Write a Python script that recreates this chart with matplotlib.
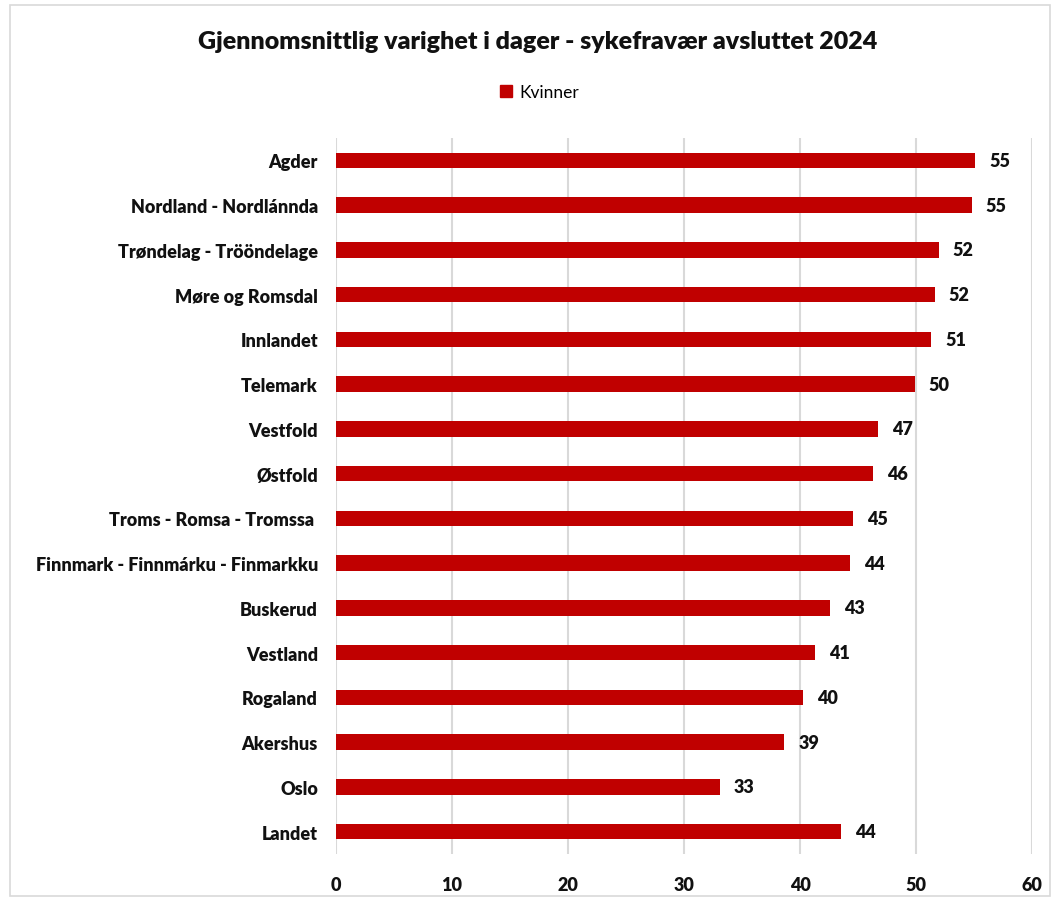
import matplotlib.pyplot as plt
from matplotlib.patches import Rectangle, Patch

# Data
regions = ['Agder', 'Nordland - Nordlánnda', 'Trøndelag - Trööndelage', 'Møre og Romsdal',
           'Innlandet', 'Telemark', 'Vestfold', 'Østfold', 'Troms - Romsa - Tromssa ',
           'Finnmark - Finnmárku - Finmarkku', 'Buskerud', 'Vestland', 'Rogaland',
           'Akershus', 'Oslo', 'Landet']
values = [55.1, 54.8, 51.95, 51.6, 51.3, 49.9, 46.7, 46.3, 44.6, 44.3,
          42.6, 41.3, 40.3, 38.65, 33.1, 43.55]
ticks = [0, 10, 20, 30, 40, 50, 60]

plt.rcParams['font.family'] = ['Lato', 'DejaVu Sans']
red = '#C00000'
txt = '#111111'

fig = plt.figure(figsize=(10.58, 9.03), dpi=100)
fig.patches.append(Rectangle((10 / 1058, 6 / 903), 1040 / 1058, 891 / 903,
                             transform=fig.transFigure, fill=False,
                             edgecolor='#D9D9D9', linewidth=1.2))

ax = fig.add_axes([336 / 1058, 1 - 855 / 903, 696 / 1058, (855 - 139) / 903])

y = list(range(len(regions)))
ax.barh(y, values, height=0.35, color=red, zorder=3)
for yi, v in zip(y, values):
    ax.text(v + 1.2, yi, f'{round(v):d}', va='center', ha='left',
            fontsize=13, fontweight='heavy', color=txt)

ax.set_ylim(len(regions) - 0.5, -0.5)
ax.set_xlim(0, 60)
ax.set_xticks(ticks)
ax.set_yticks(y)
ax.set_yticklabels(regions, fontsize=13, fontweight='heavy', color=txt)
ax.tick_params(axis='x', labelsize=13, length=0, pad=16, labelcolor=txt)
ax.tick_params(axis='y', length=0, pad=13)
for lab in ax.get_xticklabels():
    lab.set_fontweight('heavy')
ax.grid(axis='x', color='#D9D9D9', linewidth=1.5, zorder=0)
for s in ax.spines.values():
    s.set_visible(False)

fig.text(0.508, 1 - 42 / 903, 'Gjennomsnittlig varighet i dager - sykefravær avsluttet 2024',
         ha='center', va='center', fontsize=18, fontweight='heavy', color=txt)
fig.legend(handles=[Patch(color=red, label='Kvinner')], loc='center',
           bbox_to_anchor=(0.51, 1 - 93 / 903), frameon=False, fontsize=12.5,
           handlelength=0.7, handleheight=0.7, handletextpad=0.4)

fig.savefig('out.png', dpi=100)
